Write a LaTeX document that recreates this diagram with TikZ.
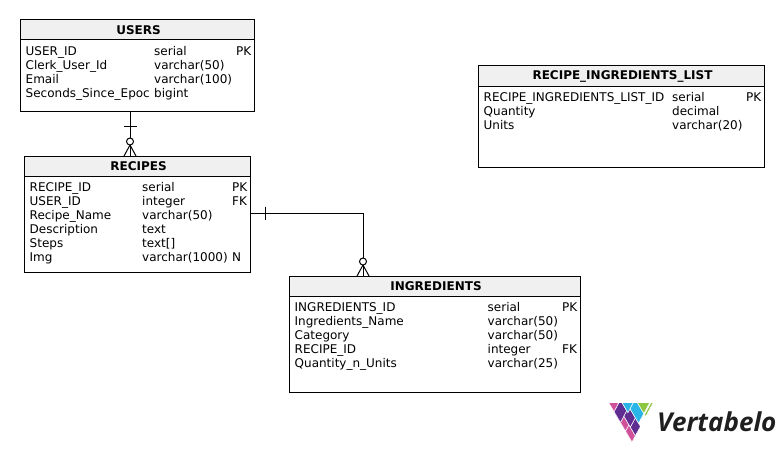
\documentclass[tikz,border=0pt]{standalone}
\usepackage{fontspec}
\setmainfont{DejaVu Sans}
\newfontfamily\logofont{Open Sans}
\definecolor{headgray}{HTML}{F0F0F0}
\definecolor{logopink}{HTML}{D1509A}
\definecolor{logopurple}{HTML}{5F2D91}
\definecolor{logoblue}{HTML}{29B5E8}
\definecolor{logogreen}{HTML}{8DC63F}
\tikzset{
	tablebox/.style={draw, line width=1pt, anchor=north west, inner sep=0pt, outer sep=0pt},
	tablehead/.style={tablebox, fill=headgray, minimum height=20pt, font=\fontsize{12}{14}\selectfont\bfseries, execute at begin node={\hspace*{3pt}}},
	rowtext/.style={anchor=north west, inner sep=0pt, align=left, font=\fontsize{12}{14}\selectfont},
	optional/.style={draw, circle, line width=1pt, inner sep=0pt, outer sep=0pt, minimum size=7pt},
	relline/.style={line width=1pt}
}
\begin{document}
\begin{tikzpicture}[x=1pt, y=-1pt]
	\useasboundingbox (0,0) rectangle (784,452);
	\node[tablebox, minimum width=234pt, minimum height=91pt] (USERS)at(20, 20) {};
	\node[tablehead, minimum width=234pt] (usersHead)at(20, 20) {USERS};
	\node[rowtext] (usersName)at(25.5, 45.2) {\strut USER\_ID\\Clerk\_User\_Id\\Email\\Seconds\_Since\_Epoc};
	\node[rowtext] (usersType)at(154, 45.2) {\strut serial\\varchar(50)\\varchar(100)\\bigint};
	\node[rowtext] (usersKey)at(236, 45.2) {\strut PK\\\\};

	\node[tablebox, minimum width=226pt, minimum height=116pt] (RECIPES)at(24, 156) {};
	\node[tablehead, minimum width=226pt] (recipesHead)at(24, 156) {RECIPES};
	\node[rowtext] (recipesName)at(29.5, 181.2) {\strut RECIPE\_ID\\USER\_ID\\Recipe\_Name\\Description\\Steps\\Img};
	\node[rowtext] (recipesType)at(142, 181.2) {\strut serial\\integer\\varchar(50)\\text\\text[]\\varchar(1000)};
	\node[rowtext] (recipesKey)at(232, 181.2) {\strut PK\\FK\\\\\\\\N};

	\node[tablebox, minimum width=286pt, minimum height=101pt] (LIST)at(478, 66) {};
	\node[tablehead, minimum width=286pt] (listHead)at(478, 66) {RECIPE\_INGREDIENTS\_LIST};
	\node[rowtext] (listName)at(483.5, 91.2) {\strut RECIPE\_INGREDIENTS\_LIST\_ID\\Quantity\\Units};
	\node[rowtext] (listType)at(672, 91.2) {\strut serial\\decimal\\varchar(20)};
	\node[rowtext] (listKey)at(746, 91.2) {\strut PK\\\\};

	\node[tablebox, minimum width=291pt, minimum height=116pt] (INGREDIENTS)at(289, 276) {};
	\node[tablehead, minimum width=291pt] (ingredientsHead)at(289, 276) {INGREDIENTS};
	\node[rowtext] (ingredientsName)at(294.5, 301.2) {\strut INGREDIENTS\_ID\\Ingredients\_Name\\Category\\RECIPE\_ID\\Quantity\_n\_Units};
	\node[rowtext] (ingredientsType)at(487.5, 301.2) {\strut serial\\varchar(50)\\varchar(50)\\integer\\varchar(25)};
	\node[rowtext] (ingredientsKey)at(562, 301.2) {\strut PK\\\\\\FK};

	\node[optional] (optUsers)at(130, 141.5) {};
	\coordinate (tickUsers)at(130, 126.5);
	\coordinate (footUsersL)at(124, 156);
	\coordinate (footUsersR)at(136, 156);
	\draw[relline] (optUsers.north) -- (optUsers |- USERS.south);
	\draw[relline] (tickUsers)+(-6.5, 0) -- +(6.5, 0);
	\draw[relline] (optUsers.south) -- (optUsers |- RECIPES.north);
	\draw[relline] (optUsers.south) -- (footUsersL);
	\draw[relline] (optUsers.south) -- (footUsersR);

	\node[optional] (optRecipes)at(363, 261.5) {};
	\coordinate (tickRecipes)at(265, 213);
	\coordinate (footRecipesL)at(357, 276);
	\coordinate (footRecipesR)at(369, 276);
	\draw[relline] (RECIPES.east |- tickRecipes) -- (optRecipes |- tickRecipes) -- (optRecipes.north);
	\draw[relline] (tickRecipes)+(0, -6.5) -- +(0, 6.5);
	\draw[relline] (optRecipes.south) -- (optRecipes |- INGREDIENTS.north);
	\draw[relline] (optRecipes.south) -- (footRecipesL);
	\draw[relline] (optRecipes.south) -- (footRecipesR);

	\begin{scope}[shift={(632, 442)}, x={(-23pt, 39pt)}, y={(21pt, 39pt)}]
		\clip (0, 0) -- (1, 0) -- (0, 1) -- cycle;
		\foreach \ao/\ae/\bo/\be/\cellcol in {0/.28/0/.16/logopink, .28/.5/0/.16/logopink, .5/.78/0/.3/logopurple, .78/1/0/.2/logopink, 0/.22/.16/.4/logopurple, .22/.5/.16/.4/logopurple, .45/.78/.3/.55/logoblue, .08/.45/.4/.65/logoblue, .08/.5/.65/1/logogreen, 0/.05/.65/1/logogreen}
			\filldraw[fill=\cellcol, draw=white, line width=.5pt] (\ao, \bo) -- (\ae, \bo) -- (\ae, \be) -- (\ao, \be) -- cycle;
	\end{scope}
	\node[anchor=west, inner sep=0pt, text=black!88, font=\fontsize{26}{26}\logofont\bfseries\itshape] (logoText)at(657, 422) {Vertabelo};
\end{tikzpicture}
\end{document}
